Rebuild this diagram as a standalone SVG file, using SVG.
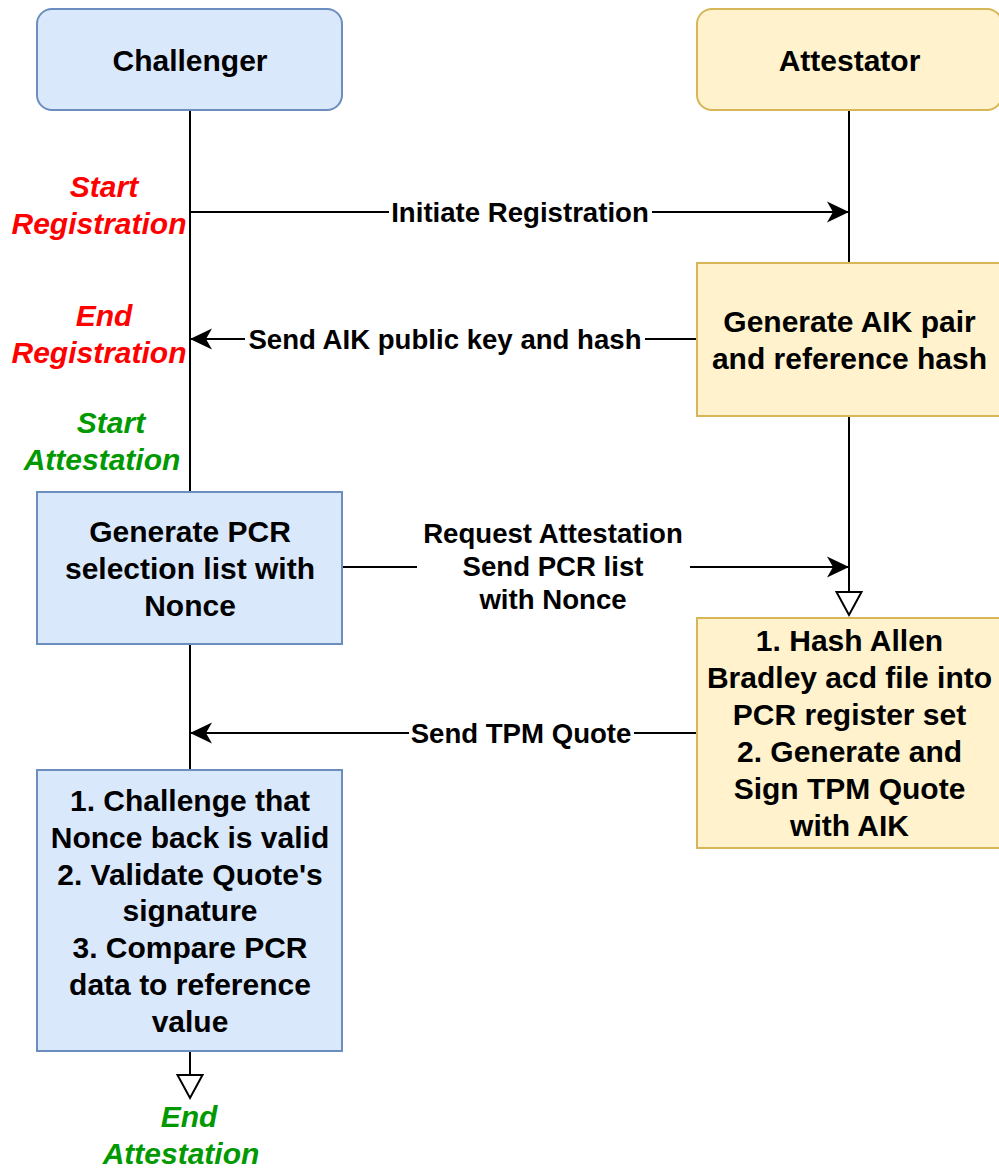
<svg xmlns="http://www.w3.org/2000/svg" width="999" height="1169" viewBox="0 0 999 1169">
  <style>
    .blue { fill: #dae8fc; stroke: #6c8ebf; stroke-width: 2; }
    .yellow { fill: #fff2cc; stroke: #d6b656; stroke-width: 2; }
    .box-text { font-family: "Liberation Sans", Arial, sans-serif; font-size: 30px; font-weight: bold; fill: #000; text-anchor: middle; }
    .edge-text { font-family: "Liberation Sans", Arial, sans-serif; font-size: 27.6px; font-weight: bold; fill: #000; text-anchor: middle; }
    .phase { font-family: "Liberation Sans", Arial, sans-serif; font-size: 30px; font-weight: bold; font-style: italic; text-anchor: middle; }
    .red { fill: #ff0000; }
    .green { fill: #009900; }
    .line { fill: none; stroke: #000; stroke-width: 2; }
    .label-bg { fill: #fff; }
  </style>
  <defs>
    <marker id="arrow" markerUnits="userSpaceOnUse" markerWidth="26" markerHeight="26" viewBox="-24 -13 26 26" refX="0" refY="0" orient="auto">
      <path d="M0,0 L-22,-10.5 L-16,0 L-22,10.5 Z" fill="#000"/>
    </marker>
    <marker id="hollow" markerUnits="userSpaceOnUse" markerWidth="28" markerHeight="30" viewBox="-2 -15 28 30" refX="0" refY="0" orient="auto">
      <path d="M0,-12.5 L23,0 L0,12.5 Z" fill="#fff" stroke="#000" stroke-width="2"/>
    </marker>
  </defs>

  <!-- lifelines and messages -->
  <g id="connectors">
    <line class="line" x1="190" y1="110" x2="190" y2="491"/>
    <line class="line" x1="849" y1="110" x2="849" y2="263"/>
    <line class="line" x1="849" y1="416" x2="849" y2="592" marker-end="url(#hollow)"/>
    <line class="line" x1="190" y1="644" x2="190" y2="770"/>
    <line class="line" x1="190" y1="1051" x2="190" y2="1075" marker-end="url(#hollow)"/>

    <line class="line" x1="190" y1="212" x2="849" y2="212" marker-end="url(#arrow)"/>
    <rect class="label-bg" x="389" y="196" width="263" height="32"/>
    <text class="edge-text" x="520" y="222">Initiate Registration</text>

    <line class="line" x1="697" y1="339" x2="190" y2="339" marker-end="url(#arrow)"/>
    <rect class="label-bg" x="245" y="323" width="400" height="32"/>
    <text class="edge-text" x="445" y="349">Send AIK public key and hash</text>

    <line class="line" x1="342" y1="567" x2="849" y2="567" marker-end="url(#arrow)"/>
    <rect class="label-bg" x="417" y="514" width="273" height="104"/>
    <text class="edge-text" x="553" y="543">Request Attestation<tspan x="553" dy="33">Send PCR list</tspan><tspan x="553" dy="33">with Nonce</tspan></text>

    <line class="line" x1="697" y1="733" x2="190" y2="733" marker-end="url(#arrow)"/>
    <rect class="label-bg" x="409" y="717" width="225" height="32"/>
    <text class="edge-text" x="521" y="743">Send TPM Quote</text>
  </g>

  <g id="challenger">
    <rect class="blue" x="37" y="9" width="305" height="101" rx="15" ry="15"/>
    <text class="box-text" x="190" y="71">Challenger</text>
  </g>

  <g id="attestator">
    <rect class="yellow" x="697" y="9" width="305" height="101" rx="15" ry="15"/>
    <text class="box-text" x="849.5" y="71">Attestator</text>
  </g>

  <g id="generate-aik">
    <rect class="yellow" x="697" y="263" width="305" height="153"/>
    <text class="box-text" x="849.5" y="332">Generate AIK pair<tspan x="849.5" dy="37">and reference hash</tspan></text>
  </g>

  <g id="generate-pcr">
    <rect class="blue" x="37" y="492" width="305" height="152"/>
    <text class="box-text" x="190" y="542">Generate PCR<tspan x="190" dy="37">selection list with</tspan><tspan x="190" dy="37">Nonce</tspan></text>
  </g>

  <g id="hash-and-quote">
    <rect class="yellow" x="697" y="618" width="305" height="230"/>
    <text class="box-text" x="849.5" y="651">1. Hash Allen<tspan x="849.5" dy="37">Bradley acd file into</tspan><tspan x="849.5" dy="37">PCR register set</tspan><tspan x="849.5" dy="37">2. Generate and</tspan><tspan x="849.5" dy="37">Sign TPM Quote</tspan><tspan x="849.5" dy="37">with AIK</tspan></text>
  </g>

  <g id="verify">
    <rect class="blue" x="37" y="770" width="305" height="281"/>
    <text class="box-text" x="190" y="811">1. Challenge that<tspan x="190" dy="36.8">Nonce back is valid</tspan><tspan x="190" dy="36.8">2. Validate Quote's</tspan><tspan x="190" dy="36.8">signature</tspan><tspan x="190" dy="36.8">3. Compare PCR</tspan><tspan x="190" dy="36.8">data to reference</tspan><tspan x="190" dy="36.8">value</tspan></text>
  </g>

  <g id="phase-labels">
    <text class="phase red" x="104" y="197">Start</text>
    <text class="phase red" x="99" y="234">Registration</text>
    <text class="phase red" x="104" y="326">End</text>
    <text class="phase red" x="99" y="363">Registration</text>
    <text class="phase green" x="111" y="433">Start</text>
    <text class="phase green" x="102" y="470">Attestation</text>
    <text class="phase green" x="189" y="1127">End</text>
    <text class="phase green" x="181" y="1164">Attestation</text>
  </g>
</svg>
